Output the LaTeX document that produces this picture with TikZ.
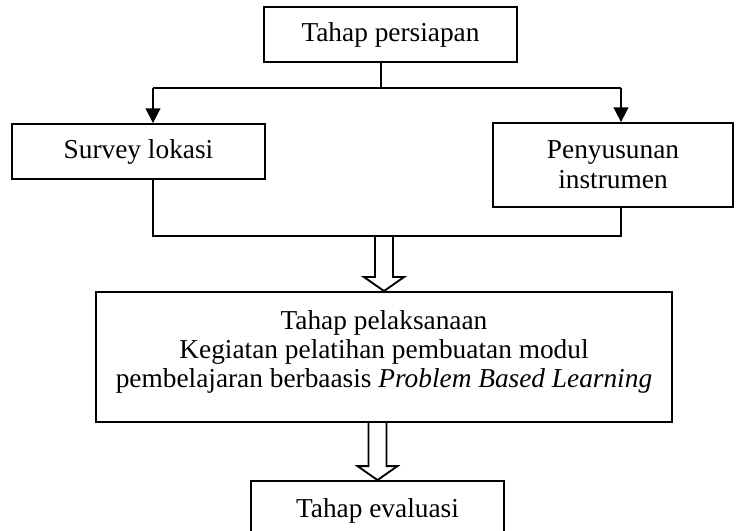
\documentclass[tikz,border=0pt]{standalone}
\usepackage{fontspec}
\setmainfont{Liberation Serif}
\usetikzlibrary{calc,arrows.meta}
\tikzset{
  stage/.style={draw, line width=1.4pt, inner sep=0pt, align=center,
    font=\fontsize{20.5}{22.5}\selectfont},
  stagetext/.style={inner sep=0pt, align=center, font=\fontsize{20.5}{21.8}\selectfont},
  link/.style={line width=1.4pt},
  linkarrow/.style={line width=1.4pt, -{Triangle[length=11pt,width=11pt]}},
  fatarrow/.style={line width=1.4pt, line join=miter}
}
\newcommand{\hollowdown}[2]{\draw[fatarrow] ($(#1)+(-9,0)$) -- ($(#2)+(-9,-14)$) -- ($(#2)+(-20,-14)$) -- (#2) -- ($(#2)+(20,-14)$) -- ($(#2)+(9,-14)$) -- ($(#1)+(9,0)$);}

\begin{document}
\begin{tikzpicture}[x=0.75pt,y=-0.75pt]
  %%%%% START %%%%%
  \clip (0,0) rectangle (736,531);

  \node[stage, minimum width=189.75pt, minimum height=41.25pt] (prep) at (390.5,34.5) {Tahap persiapan};
  \node[stage, minimum width=189.75pt, minimum height=41.25pt] (survey) at (138.5,151.5) {Survey lokasi};
  \node[stage, minimum width=180pt, minimum height=63pt] (instr) at (613,165) {Penyusunan\\instrumen};
  \node[stage, minimum width=432pt, minimum height=97.5pt] (pelaks) at (384,357) {};
  \node[stagetext] (pelakstext) at ($(pelaks.center)+(0,-5)$) {Tahap pelaksanaan\\Kegiatan pelatihan pembuatan modul\\pembelajaran berbaasis \textit{Problem Based Learning}};
  \node[stage, minimum width=189.75pt, minimum height=45pt] (eval) at (377.5,511) {Tahap evaluasi};

  % cabang atas
  \coordinate (split) at (381,88);
  \coordinate (forkL) at (153,88);
  \coordinate (forkR) at (621,88);
  \draw[link] (prep.south -| split) -- (split);
  \draw[link] (forkL) -- (forkR);
  \draw[linkarrow] (forkL) -- (survey.north -| forkL);
  \draw[linkarrow] (forkR) -- (instr.north -| forkR);

  % gabungan bawah
  \coordinate (joinL) at (153,236);
  \coordinate (joinR) at (621,236);
  \draw[link] (survey.south -| joinL) -- (joinL) -- (joinR) -- (instr.south -| joinR);

  % panah kosong
  \coordinate (drop1) at (pelaks.north |- joinL);
  \hollowdown{drop1}{pelaks.north}
  \coordinate (drop2) at (eval.north |- pelaks.south);
  \hollowdown{drop2}{eval.north}

  %%%%% END %%%%%
\end{tikzpicture}
\end{document}
